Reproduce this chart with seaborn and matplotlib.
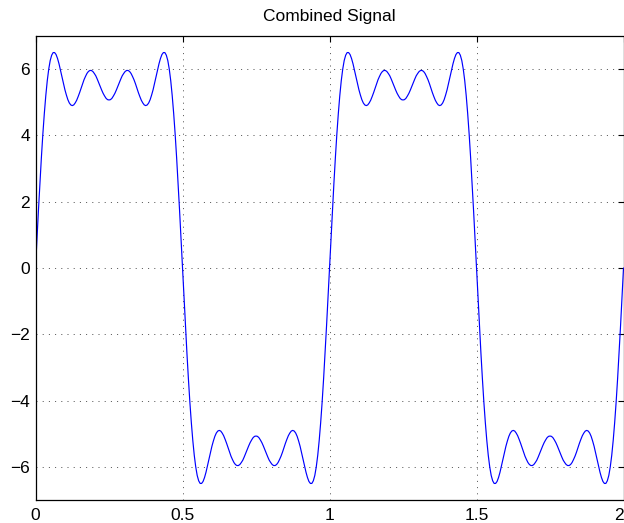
import numpy as np
import pandas as pd
import matplotlib
matplotlib.use("Agg")
import matplotlib.pyplot as plt
import seaborn as sns

# Sample times (s), 0..2 in steps of 0.005
t = np.linspace(0, 2, 401)

# Signal values: positive half period (t = 0.000 .. 0.495)
pos_half = [
    0.00, 0.88, 1.74, 2.56, 3.33, 4.04, 4.66, 5.20, 5.65, 6.00,
    6.26, 6.42, 6.50, 6.50, 6.44, 6.32, 6.16, 5.97, 5.77, 5.57,
    5.38, 5.22, 5.08, 4.98, 4.92, 4.90, 4.92, 4.98, 5.06, 5.17,
    5.29, 5.42, 5.56, 5.68, 5.78, 5.87, 5.93, 5.96, 5.96, 5.93,
    5.87, 5.80, 5.70, 5.59, 5.48, 5.37, 5.27, 5.19, 5.12, 5.08,
    5.07, 5.08, 5.12, 5.19, 5.27, 5.37, 5.48, 5.59, 5.70, 5.80,
    5.87, 5.93, 5.96, 5.96, 5.93, 5.87, 5.78, 5.68, 5.56, 5.42,
    5.29, 5.17, 5.06, 4.98, 4.92, 4.90, 4.92, 4.98, 5.08, 5.22,
    5.38, 5.57, 5.77, 5.97, 6.16, 6.32, 6.44, 6.50, 6.50, 6.42,
    6.26, 6.00, 5.65, 5.20, 4.66, 4.04, 3.33, 2.56, 1.74, 0.88,
]
# negative half period (t = 0.500 .. 0.995)
neg_half = [
    0.00, -0.88, -1.74, -2.56, -3.33, -4.04, -4.66, -5.20, -5.65, -6.00,
    -6.26, -6.42, -6.50, -6.50, -6.44, -6.32, -6.16, -5.97, -5.77, -5.57,
    -5.38, -5.22, -5.08, -4.98, -4.92, -4.90, -4.92, -4.98, -5.06, -5.17,
    -5.29, -5.42, -5.56, -5.68, -5.78, -5.87, -5.93, -5.96, -5.96, -5.93,
    -5.87, -5.80, -5.70, -5.59, -5.48, -5.37, -5.27, -5.19, -5.12, -5.08,
    -5.07, -5.08, -5.12, -5.19, -5.27, -5.37, -5.48, -5.59, -5.70, -5.80,
    -5.87, -5.93, -5.96, -5.96, -5.93, -5.87, -5.78, -5.68, -5.56, -5.42,
    -5.29, -5.17, -5.06, -4.98, -4.92, -4.90, -4.92, -4.98, -5.08, -5.22,
    -5.38, -5.57, -5.77, -5.97, -6.16, -6.32, -6.44, -6.50, -6.50, -6.42,
    -6.26, -6.00, -5.65, -5.20, -4.66, -4.04, -3.33, -2.56, -1.74, -0.88,
]
period = pos_half + neg_half
signal = period + period + [0.00]

x_ticks = [0, 0.5, 1, 1.5, 2]
x_tick_labels = ["0", "0.5", "1", "1.5", "2"]
y_ticks = [-6, -4, -2, 0, 2, 4, 6]
title = "Combined Signal"

sns.set_style("white")
plt.rcParams["font.family"] = ["Liberation Sans", "DejaVu Sans"]
plt.rcParams["axes.unicode_minus"] = True
plt.rcParams["text.color"] = "black"

df = pd.DataFrame({"t": t, "signal": signal})

fig = plt.figure(figsize=(6.24, 5.23), dpi=100)
ax = fig.add_axes([35.5 / 624, 23 / 523, (623.5 - 35.5) / 624, (500 - 36) / 523])

sns.lineplot(data=df, x="t", y="signal", ax=ax, color="#0000ff", linewidth=0.85)

ax.set_xlim(0, 2)
ax.set_ylim(-7, 7)
ax.set_xticks(x_ticks)
ax.set_xticklabels(x_tick_labels)
ax.set_yticks(y_ticks)
ax.set_xlabel("")
ax.set_ylabel("")
ax.set_title(title, fontsize=12.5, pad=11, color="black")

ax.grid(True, linestyle=(0, (1, 5.2)), color="#555555", linewidth=0.72)
ax.tick_params(direction="in", length=4, width=0.8, top=True, right=True,
               labelsize=12.5, colors="black")
ax.tick_params(axis="x", pad=6)
ax.tick_params(axis="y", pad=4)
# keep the last x label inside the canvas
ax.get_xticklabels()[-1].set_horizontalalignment("right")
for s in ax.spines.values():
    s.set_visible(True)
    s.set_color("black")
    s.set_linewidth(0.9)

fig.savefig("out.png", dpi=100)
